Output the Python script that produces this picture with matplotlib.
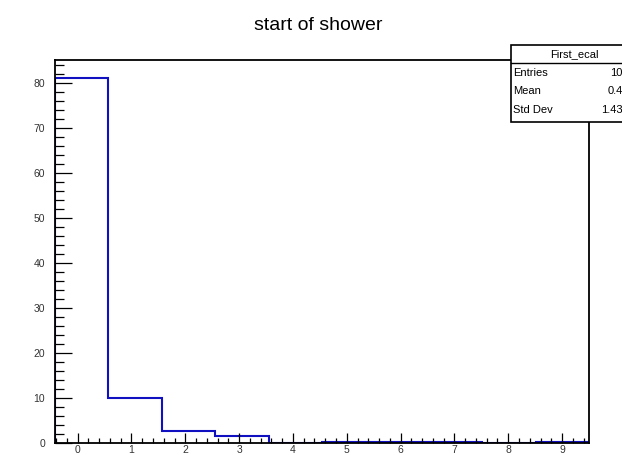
import numpy as np
import matplotlib
matplotlib.use('Agg')
import matplotlib.pyplot as plt
from matplotlib.ticker import MultipleLocator
from matplotlib.patches import Rectangle

# histogram of the first ecal layer where the shower starts
bin_lo = -0.42
bin_hi = 9.5
counts = [81, 10, 2.6, 1.5, 0, 0.3, 0.3, 0.3, 0, 0.3]
hist_name = 'First_ecal'
stat_labels = ['Entries', 'Mean', 'Std Dev']
stat_values = ['100', '0.49', '1.439']

plt.rcParams['font.family'] = ['Liberation Sans', 'DejaVu Sans']

W, H = 622, 455
fig = plt.figure(figsize=(W / 100, H / 100), dpi=100)
ax = fig.add_axes([55 / W, 1 - 443 / H, (589 - 55) / W, (443 - 60) / H])

edges = np.linspace(bin_lo, bin_hi, len(counts) + 1)
ax.stairs(counts, edges, color='#1010c0', linewidth=1.5, zorder=1)

ax.set_xlim(bin_lo, bin_hi)
ax.set_ylim(0, max(counts) * 1.05)

ax.xaxis.set_major_locator(MultipleLocator(1))
ax.xaxis.set_minor_locator(MultipleLocator(0.2))
ax.yaxis.set_major_locator(MultipleLocator(10))
ax.yaxis.set_minor_locator(MultipleLocator(2))

for s in ax.spines.values():
    s.set_linewidth(1.3)
    s.set_zorder(3)

ax.tick_params(axis='x', which='major', direction='in', length=7.2, width=0.9,
               labelsize=7.5, pad=1.5, labelcolor='#333333')
ax.tick_params(axis='x', which='minor', direction='in', length=3.6, width=0.9)
ax.tick_params(axis='y', which='major', direction='in', length=12.2, width=0.9,
               labelsize=7.5, pad=7, labelcolor='#333333')
ax.tick_params(axis='y', which='minor', direction='in', length=6.3, width=0.9)

fig.text(318 / W, 1 - 25 / H, 'start of shower', ha='center', va='center', fontsize=14)

# stats box in the top right corner
bx0, bx1 = 511, 637
by0, by1, bhead = 45, 122, 63
box = Rectangle((bx0 / W, 1 - by1 / H), (bx1 - bx0) / W, (by1 - by0) / H,
                transform=fig.transFigure, facecolor='white', edgecolor='black',
                linewidth=1.2, zorder=5)
fig.add_artist(box)
fig.add_artist(plt.Line2D([bx0 / W, bx1 / W], [1 - bhead / H, 1 - bhead / H],
                          transform=fig.transFigure, color='black', linewidth=1.0, zorder=6))
fig.text((bx0 + bx1) / 2 / W, 1 - 54 / H, hist_name, ha='center', va='center',
         fontsize=8, zorder=7)
for i, (lab, val) in enumerate(zip(stat_labels, stat_values)):
    yy = 1 - (73 + 18.5 * i) / H
    fig.text(513 / W, yy, lab, ha='left', va='center', fontsize=8, zorder=7)
    fig.text(629 / W, yy, val, ha='right', va='center', fontsize=8, zorder=7)

fig.savefig('out.png', dpi=100)
